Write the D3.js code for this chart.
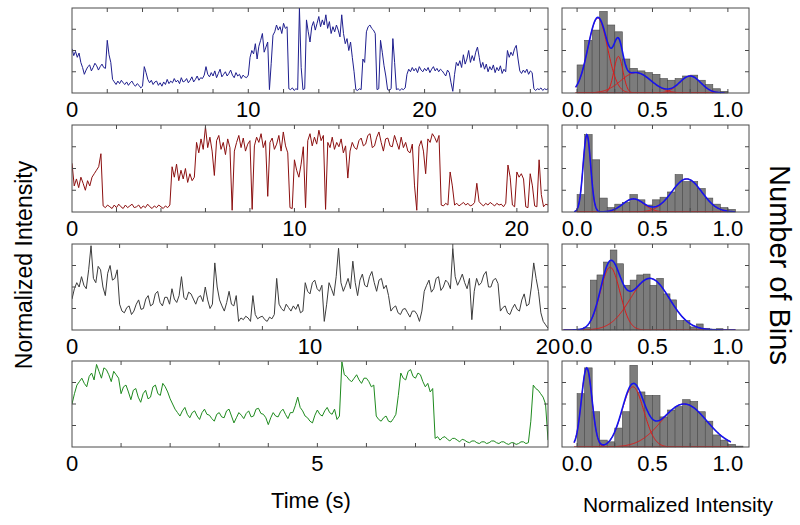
<!DOCTYPE html>
<html><head><meta charset="utf-8">
<script src="https://cdn.jsdelivr.net/npm/d3@7"></script>
<style>
body{margin:0;background:#fff}
svg{display:block}
text{font-family:"Liberation Sans",Arial,Helvetica,sans-serif;fill:#000}
</style>
</head><body>
<svg id="chart" width="800" height="525"></svg>
<script>
// ---------- Trace data (normalized intensity, sampled at a constant step) ----------
const trace1 = [
0.52,0.44,0.49,0.42,0.47,0.36,0.30,0.22,0.27,0.31,
0.33,0.26,0.30,0.35,0.32,0.27,0.31,0.34,0.30,0.29,
0.62,0.45,0.36,0.16,0.13,0.10,0.14,0.11,0.15,0.12,
0.10,0.13,0.09,0.12,0.14,0.10,0.08,0.11,0.09,0.06,
0.08,0.31,0.24,0.16,0.12,0.15,0.10,0.13,0.14,0.09,
0.12,0.08,0.13,0.10,0.16,0.11,0.14,0.12,0.17,0.13,
0.15,0.11,0.18,0.13,0.14,0.17,0.12,0.15,0.19,0.13,
0.16,0.20,0.15,0.18,0.17,0.21,0.31,0.22,0.19,0.24,
0.20,0.26,0.18,0.23,0.28,0.19,0.22,0.25,0.20,0.23,
0.27,0.21,0.18,0.24,0.20,0.22,0.17,0.21,0.19,0.18,
0.21,0.42,0.50,0.46,0.58,0.40,0.55,0.62,0.70,0.48,
0.54,0.60,0.04,0.35,0.68,0.72,0.80,0.74,0.78,0.70,
0.82,0.76,0.78,0.05,0.04,0.06,0.03,0.05,0.04,1.00,
0.30,0.04,0.05,0.86,0.72,0.60,0.78,0.84,0.74,0.82,
0.90,0.78,0.86,0.80,0.92,0.76,0.84,0.70,0.78,0.72,
0.80,0.74,0.66,0.92,0.70,0.58,0.64,0.50,0.60,0.42,
0.25,0.04,0.03,0.05,0.04,0.40,0.36,0.72,0.78,0.80,
0.76,0.74,0.70,0.04,0.05,0.62,0.48,0.32,0.20,0.04,
0.03,0.05,0.64,0.36,0.04,0.05,0.03,0.05,0.04,0.06,
0.22,0.28,0.25,0.30,0.26,0.29,0.24,0.31,0.27,0.25,
0.29,0.26,0.30,0.24,0.28,0.31,0.26,0.29,0.25,0.28,
0.26,0.23,0.20,0.27,0.24,0.12,0.02,0.22,0.36,0.32,
0.38,0.30,0.45,0.34,0.40,0.50,0.36,0.44,0.38,0.48,
0.54,0.42,0.30,0.36,0.28,0.34,0.25,0.31,0.27,0.33,
0.24,0.30,0.26,0.32,0.23,0.28,0.25,0.50,0.42,0.48,
0.44,0.52,0.56,0.40,0.26,0.23,0.27,0.24,0.28,0.22,
0.26,0.24,0.05,0.03,0.05,0.04,0.06,0.03,0.05,0.04,
0.05];
const trace2 = [
0.56,0.30,0.38,0.28,0.40,0.33,0.25,0.36,0.30,0.40,
0.44,0.48,0.52,0.67,0.07,0.05,0.08,0.06,0.04,0.08,
0.05,0.09,0.06,0.04,0.08,0.05,0.07,0.09,0.05,0.06,
0.08,0.04,0.07,0.05,0.09,0.06,0.04,0.07,0.05,0.08,
0.06,0.04,0.07,0.05,0.08,0.52,0.40,0.55,0.36,0.48,
0.38,0.50,0.34,0.44,0.36,0.40,0.80,0.68,0.84,0.72,
0.98,0.74,0.86,0.70,0.42,0.82,0.88,0.72,0.80,0.66,
0.84,0.74,0.02,0.70,0.80,0.88,0.74,0.85,0.70,0.78,
0.82,0.03,0.76,0.86,0.80,0.90,0.74,0.82,0.18,0.80,
0.85,0.72,0.78,0.88,0.70,0.92,0.76,0.68,0.05,0.04,
0.60,0.48,0.40,0.55,0.75,0.05,0.82,0.90,0.76,0.86,
0.78,0.94,0.82,0.88,0.03,0.80,0.74,0.86,0.72,0.80,
0.75,0.84,0.68,0.76,0.39,0.70,0.80,0.74,0.72,0.82,
0.85,0.76,0.78,0.88,0.90,0.74,0.76,0.86,0.92,0.80,
0.70,0.84,0.85,0.76,0.75,0.88,0.80,0.72,0.86,0.74,
0.80,0.70,0.68,0.78,0.30,0.02,0.75,0.82,0.70,0.44,
0.84,0.80,0.90,0.86,0.80,0.88,0.08,0.07,0.10,0.08,
0.46,0.30,0.08,0.10,0.07,0.09,0.11,0.08,0.10,0.07,
0.08,0.11,0.33,0.12,0.09,0.07,0.10,0.08,0.11,0.09,
0.07,0.10,0.08,0.09,0.06,0.10,0.54,0.40,0.08,0.06,
0.46,0.40,0.44,0.38,0.06,0.05,0.44,0.30,0.07,0.06,
0.60,0.20,0.06,0.09,0.08];
const trace3 = [
0.36,0.48,0.55,0.50,0.62,0.52,0.48,0.70,0.98,0.60,
0.55,0.74,0.70,0.50,0.40,0.66,0.75,0.58,0.60,0.70,
0.30,0.22,0.20,0.26,0.28,0.18,0.22,0.30,0.35,0.24,
0.25,0.36,0.40,0.28,0.30,0.42,0.45,0.32,0.28,0.38,
0.38,0.30,0.48,0.36,0.32,0.40,0.62,0.38,0.35,0.44,
0.42,0.36,0.30,0.38,0.40,0.33,0.50,0.35,0.25,0.30,
0.78,0.50,0.35,0.28,0.22,0.32,0.45,0.30,0.28,0.40,
0.10,0.14,0.12,0.16,0.14,0.10,0.40,0.18,0.13,0.15,
0.16,0.12,0.10,0.15,0.13,0.18,0.60,0.30,0.25,0.22,
0.30,0.26,0.22,0.28,0.24,0.30,0.20,0.22,0.55,0.45,
0.42,0.55,0.58,0.48,0.45,0.52,0.10,0.30,0.55,0.48,
0.40,0.62,0.95,0.55,0.45,0.52,0.60,0.48,0.80,0.55,
0.40,0.58,0.65,0.52,0.50,0.62,0.68,0.55,0.45,0.58,
0.60,0.48,0.52,0.40,0.22,0.26,0.28,0.20,0.18,0.24,
0.25,0.20,0.15,0.22,0.22,0.18,0.10,0.22,0.45,0.52,
0.58,0.44,0.48,0.60,0.62,0.46,0.50,0.58,0.55,0.48,
0.95,0.62,0.52,0.58,0.65,0.55,0.48,0.60,0.12,0.45,
0.60,0.52,0.55,0.64,0.68,0.50,0.50,0.58,0.60,0.54,
0.22,0.26,0.28,0.20,0.18,0.25,0.30,0.24,0.22,0.35,
0.42,0.28,0.30,0.50,0.78,0.60,0.45,0.20,0.10,0.06,
0.02];
const trace4 = [
0.50,0.62,0.72,0.76,0.80,0.74,0.70,0.82,0.86,0.78,
0.96,0.88,0.80,0.92,0.90,0.84,0.76,0.88,0.84,0.80,
0.62,0.70,0.72,0.64,0.55,0.66,0.68,0.58,0.52,0.62,
0.66,0.56,0.58,0.70,0.72,0.62,0.60,0.74,0.70,0.64,
0.56,0.50,0.44,0.40,0.36,0.42,0.46,0.38,0.34,0.40,
0.42,0.36,0.32,0.40,0.44,0.38,0.37,0.33,0.30,0.38,
0.40,0.35,0.34,0.42,0.44,0.36,0.28,0.34,0.40,0.37,
0.33,0.39,0.42,0.35,0.36,0.44,0.45,0.39,0.38,0.34,
0.26,0.34,0.40,0.36,0.35,0.41,0.44,0.38,0.33,0.40,
0.40,0.48,0.58,0.46,0.42,0.36,0.34,0.30,0.28,0.37,
0.43,0.38,0.36,0.42,0.46,0.40,0.38,0.44,0.32,0.36,
0.99,0.84,0.82,0.78,0.76,0.80,0.84,0.78,0.74,0.80,
0.80,0.76,0.70,0.72,0.36,0.32,0.30,0.34,0.36,0.30,
0.29,0.33,0.38,0.60,0.86,0.80,0.78,0.88,0.90,0.82,
0.80,0.86,0.84,0.76,0.70,0.74,0.64,0.68,0.10,0.12,
0.08,0.11,0.12,0.09,0.07,0.10,0.10,0.08,0.06,0.09,
0.08,0.06,0.05,0.07,0.07,0.05,0.04,0.06,0.06,0.04,
0.05,0.07,0.07,0.05,0.04,0.06,0.06,0.04,0.03,0.05,
0.05,0.03,0.04,0.06,0.06,0.04,0.05,0.30,0.72,0.68,
0.66,0.62,0.58,0.50,
0.08];

const traceSteps = [0.1, 0.1, 0.1, 0.05];         // seconds per sample
const timeMax = [27, 21.4, 20, 9.7];              // time axis extent
const timeMinorStep = [2, 2, 2, 1];               // tick spacing
const timeLabels = [[0,10,20],[0,10,20],[0,10,20],[0,5]];
const traceColors = ["#1f1f8f","#8c1010","#3c3c3c","#1e8a1e"];

// ---------- Histogram data (bin counts, normalized to panel height) ----------
const hist1 = [0.33,0.62,0.74,0.96,0.80,0.72,0.40,0.29,0.26,0.24,0.22,0.17,0.15,0.17,0.20,0.21,0.15,0.10,0.05,0.02];
const hist2 = [0.20,0.89,0.60,0.16,0.05,0.09,0.11,0.20,0.14,0.08,0.14,0.17,0.23,0.43,0.35,0.35,0.27,0.16,0.09,0.05,0.03];
const hist3 = [0.01,0.03,0.58,0.64,0.79,0.93,0.77,0.52,0.58,0.64,0.65,0.52,0.60,0.42,0.35,0.11,0.11,0.035,0.07,0.02,0.01,0.015];
const hist4 = [0.62,0.92,0.41,0.08,0.06,0.22,0.41,0.95,0.64,0.60,0.60,0.35,0.43,0.47,0.55,0.53,0.41,0.30,0.14,0.08,0.03,0.01];
const histBinWidths = [0.05, 0.05, 0.044, 0.05];

// ---------- Gaussian fit components ----------
const fitCenters = [[0.137,0.274,0.39,0.75],[0.065,0.373,0.727],[0.219,0.483],[0.064,0.37,0.71]];
const fitAmps    = [[0.88,0.43,0.24,0.20],[0.89,0.15,0.38],[0.73,0.60],[0.92,0.70,0.50]];
const fitSigmas  = [[0.065,0.03,0.10,0.07],[0.025,0.07,0.10],[0.065,0.13],[0.035,0.072,0.15]];
const fitRanges  = [[-0.01,0.98],[-0.02,1.05],[-0.09,1.05],[-0.02,1.02]];

const histTicks = [0, 0.25, 0.5, 0.75, 1.0];
const histLabels = [0, 0.5, 1.0];

// ---------- Layout ----------
const rows = [{top:8,bottom:93},{top:125,bottom:212},{top:244,bottom:330},{top:361,bottom:447}];
const tX0 = 72, tX1 = 548, hX0 = 562, hX1 = 749;
const frameColor = "#4a4a4a";
const tickLen = 4;

const svg = d3.select("#chart");
const traces = [trace1, trace2, trace3, trace4];
const hists = [hist1, hist2, hist3, hist4];

function addFrame(g, x0, x1, y0, y1, xScale, xTicks, yScale) {
  xTicks.forEach(t => {
    const x = xScale(t);
    g.append("line").attr("x1",x).attr("x2",x).attr("y1",y0).attr("y2",y0+tickLen).attr("stroke",frameColor);
    g.append("line").attr("x1",x).attr("x2",x).attr("y1",y1).attr("y2",y1-tickLen).attr("stroke",frameColor);
  });
  [0.25,0.5,0.75].forEach(v => {
    const y = yScale(v);
    g.append("line").attr("x1",x0).attr("x2",x0+tickLen).attr("y1",y).attr("y2",y).attr("stroke",frameColor);
    g.append("line").attr("x1",x1).attr("x2",x1-tickLen).attr("y1",y).attr("y2",y).attr("stroke",frameColor);
  });
  g.append("rect").attr("x",x0).attr("y",y0).attr("width",x1-x0).attr("height",y1-y0)
    .attr("fill","none").attr("stroke",frameColor).attr("stroke-width",1);
}

rows.forEach((r, i) => {
  // ---- trace panel ----
  const xs = d3.scaleLinear().domain([0, timeMax[i]]).range([tX0, tX1]);
  const ys = d3.scaleLinear().domain([0, 1]).range([r.bottom, r.top]);
  const g = svg.append("g");
  const clipId = "clipT" + i;
  svg.append("clipPath").attr("id", clipId).append("rect")
    .attr("x", tX0).attr("y", r.top).attr("width", tX1 - tX0).attr("height", r.bottom - r.top);
  const line = d3.line().x((d, k) => xs(k * traceSteps[i])).y(d => ys(d));
  g.append("path").datum(traces[i]).attr("d", line).attr("fill","none")
    .attr("stroke", traceColors[i]).attr("stroke-width", 1).attr("stroke-linejoin","round")
    .attr("clip-path", `url(#${clipId})`);
  const ticks = d3.range(0, timeMax[i] + 1e-6, timeMinorStep[i]).filter(t => t > 0 && t < timeMax[i] - 0.05);
  addFrame(g, tX0, tX1, r.top, r.bottom, xs, ticks, ys);
  timeLabels[i].forEach(t => {
    g.append("text").attr("x", xs(t)).attr("y", r.bottom + 24).attr("text-anchor","middle")
      .attr("font-size", 22).text(t);
  });

  // ---- histogram panel ----
  const hx = d3.scaleLinear().domain([-0.1, 1.14]).range([hX0, hX1]);
  const hy = d3.scaleLinear().domain([0, 1]).range([r.bottom, r.top]);
  const hg = svg.append("g");
  const bw = histBinWidths[i];
  hg.selectAll("rect.bar").data(hists[i]).enter().append("rect").attr("class","bar")
    .attr("x", (d,k) => hx(k*bw)).attr("width", (d,k) => hx((k+1)*bw) - hx(k*bw))
    .attr("y", d => hy(d)).attr("height", d => hy(0) - hy(d))
    .attr("fill", "#7c7c7c").attr("stroke", "#4a4a4a").attr("stroke-width", 0.6);
  const clipH = "clipH" + i;
  svg.append("clipPath").attr("id", clipH).append("rect")
    .attr("x", hX0).attr("y", r.top).attr("width", hX1 - hX0).attr("height", r.bottom - r.top);
  const vs = d3.range(fitRanges[i][0], fitRanges[i][1] + 1e-9, 0.004);
  const comp = (v, c) => fitAmps[i][c] * Math.exp(-Math.pow(v - fitCenters[i][c], 2) / (2 * Math.pow(fitSigmas[i][c], 2)));
  const cl = d3.line().x(d => hx(d[0])).y(d => hy(d[1]));
  fitCenters[i].forEach((c, ci) => {
    hg.append("path").datum(vs.map(v => [v, comp(v, ci)])).attr("d", cl)
      .attr("fill","none").attr("stroke","#e01818").attr("stroke-width",1).attr("clip-path",`url(#${clipH})`);
  });
  hg.append("path").datum(vs.map(v => [v, d3.sum(fitCenters[i], (c, ci) => comp(v, ci))])).attr("d", cl)
    .attr("fill","none").attr("stroke","#1414f0").attr("stroke-width",1.6).attr("clip-path",`url(#${clipH})`);
  addFrame(hg, hX0, hX1, r.top, r.bottom, hx, histTicks, hy);
  histLabels.forEach(t => {
    hg.append("text").attr("x", hx(t)).attr("y", r.bottom + 24).attr("text-anchor","middle")
      .attr("font-size", 22).text(d3.format(".1f")(t));
  });
});

// ---------- Axis titles ----------
svg.append("text").attr("transform","translate(32,265) rotate(-90)").attr("text-anchor","middle")
  .attr("font-size", 23).text("Normalized Intensity");
svg.append("text").attr("x", 311).attr("y", 508).attr("text-anchor","middle")
  .attr("font-size", 22).text("Time (s)");
svg.append("text").attr("x", 678).attr("y", 512).attr("text-anchor","middle")
  .attr("font-size", 21).text("Normalized Intensity");
svg.append("text").attr("transform","translate(770,265) rotate(90)").attr("text-anchor","middle")
  .attr("font-size", 29).text("Number of Bins");
</script>
</body></html>
